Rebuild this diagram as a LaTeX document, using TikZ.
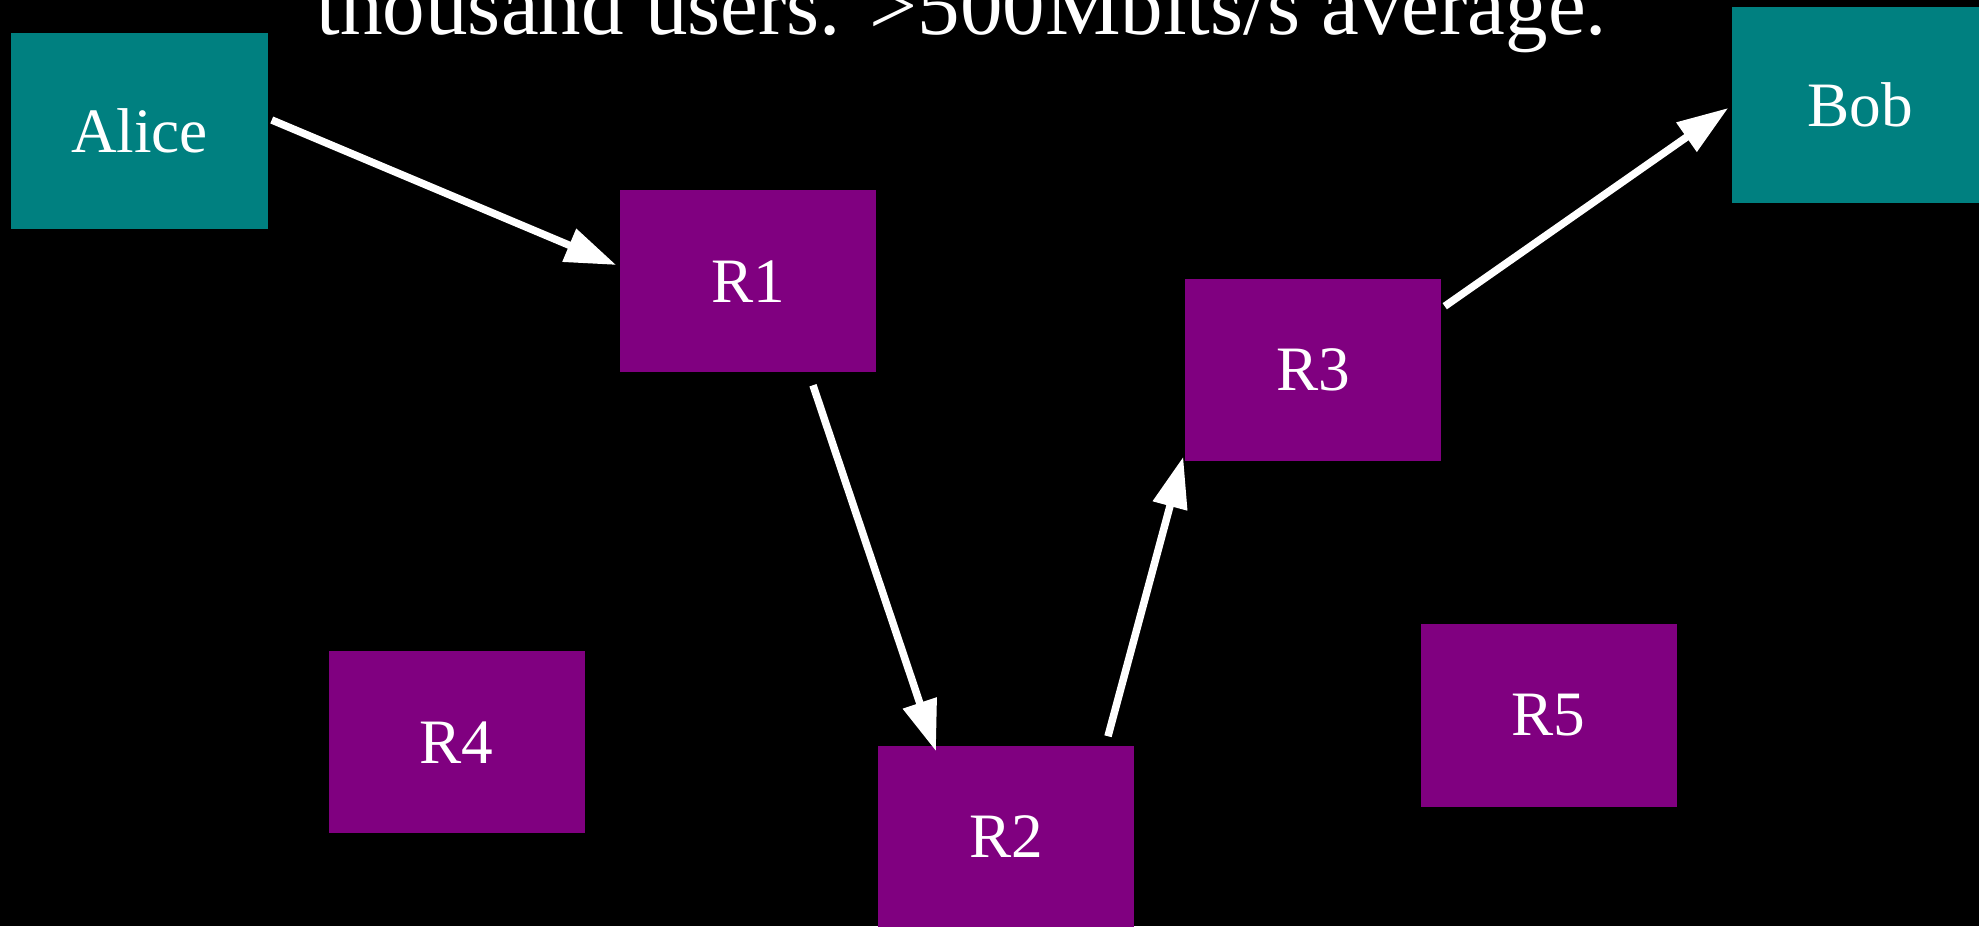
\documentclass[tikz,border=0pt]{standalone}
\usepackage{fontspec}
\setmainfont{Liberation Serif}
\usepackage{xcolor}
\usepackage{tikz}
\usetikzlibrary{positioning}
\usetikzlibrary{arrows.meta}

\definecolor{hostteal}{RGB}{0,128,128}
\definecolor{routerpurple}{RGB}{128,0,128}

\begin{document}
\begin{tikzpicture}[->,>={Triangle[length=0.51cm,width=0.34cm]},line width=0.075cm,white,
  host/.style={rectangle,fill=hostteal,text=white,minimum width=2.57cm,minimum height=1.96cm,inner sep=0pt,font=\fontsize{18pt}{22pt}\selectfont},
  router/.style={rectangle,fill=routerpurple,text=white,minimum width=2.56cm,minimum height=1.82cm,inner sep=0pt,font=\fontsize{18pt}{22pt}\selectfont},
  heading/.style={text=white,inner sep=0pt,anchor=base,font=\fontsize{24.2pt}{29pt}\selectfont}]
\useasboundingbox (0,0) rectangle (19.79,9.26);
\clip (0,0) rectangle (19.79,9.26);
\fill[-,black] (0,0) rectangle (19.79,9.26);
\node[heading] (T)  at (9.62,8.91)  {thousand users. >500Mbits/s average.};
\node[host]    (A)  at (1.395,7.95) {Alice};
\node[host]    (B)  at (18.605,8.21) {Bob};
\node[router]  (R1) at (7.48,6.445) {R1};
\node[router]  (R2) at (10.06,0.89) {R2};
\node[router]  (R3) at (13.13,5.56) {R3};
\node[router]  (R4) at (4.565,1.835) {R4};
\node[router]  (R5) at (15.485,2.105) {R5};
\path ([yshift=0.11cm]A.east) edge ([yshift=0.165cm]R1.west)
      ([xshift=0.65cm,yshift=-0.09cm]R1.south) edge ([xshift=-0.70cm,yshift=-0.09cm]R2.north)
      ([xshift=1.02cm,yshift=0.06cm]R2.north) edge ([xshift=0.02cm,yshift=0.08cm]R3.south west)
      ([yshift=-0.31cm]R3.north east) edge ([yshift=-0.03cm]B.west);
\end{tikzpicture}
\end{document}
